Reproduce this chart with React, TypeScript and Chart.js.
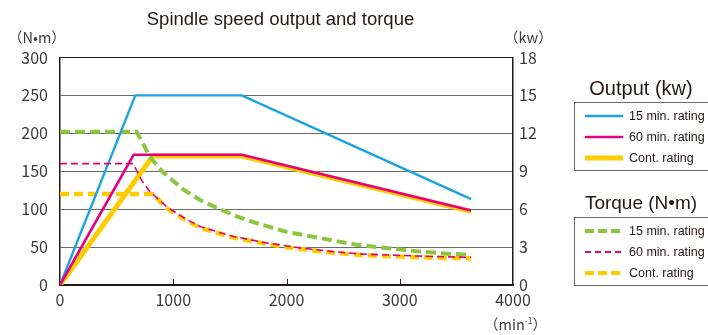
import React, { useEffect, useRef } from "react";
import { Chart, registerables } from "chart.js";

Chart.register(...registerables);

// ---- Data ----
const xTicks = [0, 1000, 2000, 3000, 4000];
const torqueTicks = [0, 50, 100, 150, 200, 250, 300];
const outputTicks = [0, 3, 6, 9, 12, 15, 18];

// Output (kw)
const outSpeed15 = [0, 665, 1605, 3630];
const out15 = [0, 15, 15, 6.8];
const outSpeed60 = [0, 650, 1605, 3630];
const out60 = [0, 10.3, 10.3, 5.9];
const outSpeedCont = [0, 820, 1605, 3630];
const outCont = [0, 10.2, 10.2, 5.82];

// Torque (N·m)
const tqSpeed15 = [0, 677, 794, 900, 1088, 1250, 1383, 1550, 1705, 2000, 2295, 2620, 2900, 3150, 3450, 3630];
const tq15 = [202, 202, 169, 150, 126, 111, 102, 91, 83, 70, 62, 53, 48.5, 44.5, 41, 40];
const tqSpeed60 = [0, 645, 721, 794, 944, 1100, 1236, 1530, 1824, 2118, 2410, 2648, 3000, 3300, 3630];
const tq60 = [160, 160, 138, 123, 103, 88, 77, 64, 55.5, 49, 44, 41, 39, 37.5, 36.5];
const tqSpeedCont = [0, 820, 944, 1100, 1236, 1530, 1824, 2118, 2410, 2648, 3000, 3300, 3630];
const tqCont = [120, 120, 101, 86.5, 75.5, 62.5, 54, 47.5, 42.5, 39.5, 37.5, 36, 35];

const BLUE = "#1aa3e2";
const MAGENTA = "#e4007f";
const YELLOW = "#ffcc00";
const GREEN = "#8cc63f";
const AXIS = "#231815";
const TEXT = "#3a3a3a";

const tickFont = { family: "'Noto Sans CJK JP', 'Noto Sans', sans-serif", size: 16 };

function pts(xs: number[], ys: number[]) {
  return xs.map((x, i) => ({ x, y: ys[i] }));
}

function LegendBox(props: {
  title: string;
  titleSize: number;
  titleTop: number;
  top: number;
  items: { label: string; color: string; width: number; dash?: string }[];
}) {
  const { title, titleSize, titleTop, top, items } = props;
  return (
    <>
      <div
        style={{
          position: "absolute",
          left: 574,
          width: 134,
          top: titleTop,
          textAlign: "center",
          fontFamily: "'Liberation Sans', Arial, sans-serif",
          fontSize: titleSize,
          color: "#231815",
          whiteSpace: "nowrap",
          lineHeight: "22px",
        }}
      >
        {title}
      </div>
      <div
        style={{
          position: "absolute",
          left: 574,
          top,
          width: 160,
          height: 69,
          border: "1px solid #6a6a6a",
          boxSizing: "border-box",
        }}
      >
        {items.map((it, i) => (
          <div
            key={i}
            style={{
              position: "absolute",
              left: 0,
              top: 3 + i * 21,
              height: 20,
              display: "flex",
              alignItems: "center",
              whiteSpace: "nowrap",
            }}
          >
            <svg width={48} height={20} style={{ display: "block" }}>
              <line
                x1={10}
                x2={48}
                y1={10}
                y2={10}
                stroke={it.color}
                strokeWidth={it.width}
                strokeDasharray={it.dash}
              />
            </svg>
            <span
              style={{
                marginLeft: 6,
                fontFamily: "'Liberation Sans', Arial, sans-serif",
                fontSize: 12.5,
                color: "#231815",
              }}
            >
              {it.label}
            </span>
          </div>
        ))}
      </div>
    </>
  );
}

export default function App() {
  const ref = useRef<HTMLCanvasElement>(null);

  useEffect(() => {
    if (!ref.current) return;
    const tickMarks = {
      id: "tickMarks",
      afterDatasetsDraw(chart: any) {
        const xs = chart.scales.x;
        const ctx = chart.ctx;
        const bottom = chart.chartArea.bottom;
        ctx.save();
        ctx.strokeStyle = AXIS;
        ctx.lineWidth = 1;
        xTicks.forEach((v) => {
          if (v <= xTicks[0] || v >= xTicks[xTicks.length - 1]) return;
          const px = Math.round(xs.getPixelForValue(v)) + 0.5;
          ctx.beginPath();
          ctx.moveTo(px, bottom);
          ctx.lineTo(px, bottom - 6);
          ctx.stroke();
        });
        ctx.restore();
      },
    };

    const plain = (v: any) => String(v);

    const chart = new Chart(ref.current, {
      type: "line",
      data: {
        datasets: [
          {
            label: "Torque 60 min. rating",
            data: pts(tqSpeed60, tq60),
            yAxisID: "y",
            borderColor: MAGENTA,
            borderWidth: 1.6,
            borderDash: [7, 4],
            order: 0,
          },
          {
            label: "Output 60 min. rating",
            data: pts(outSpeed60, out60),
            yAxisID: "y1",
            borderColor: MAGENTA,
            borderWidth: 2.6,
            order: 1,
          },
          {
            label: "Output 15 min. rating",
            data: pts(outSpeed15, out15),
            yAxisID: "y1",
            borderColor: BLUE,
            borderWidth: 2.4,
            order: 2,
          },
          {
            label: "Torque 15 min. rating",
            data: pts(tqSpeed15, tq15),
            yAxisID: "y",
            borderColor: GREEN,
            borderWidth: 4,
            borderDash: [10, 5],
            order: 3,
          },
          {
            label: "Output Cont. rating",
            data: pts(outSpeedCont, outCont),
            yAxisID: "y1",
            borderColor: YELLOW,
            borderWidth: 5,
            order: 4,
          },
          {
            label: "Torque Cont. rating",
            data: pts(tqSpeedCont, tqCont),
            yAxisID: "y",
            borderColor: YELLOW,
            borderWidth: 4.5,
            borderDash: [9, 5],
            order: 5,
          },
        ],
      },
      options: {
        responsive: false,
        animation: false,
        layout: { padding: { left: 8, right: 155, top: 57.5, bottom: 0 } },
        plugins: {
          legend: { display: false },
          tooltip: { enabled: false },
          title: { display: false },
        },
        elements: {
          point: { radius: 0 },
          line: { tension: 0, borderCapStyle: "butt", borderJoinStyle: "miter" },
        },
        scales: {
          x: {
            type: "linear",
            min: xTicks[0],
            max: xTicks[xTicks.length - 1],
            afterBuildTicks: (s: any) => {
              s.ticks = xTicks.map((v) => ({ value: v }));
            },
            ticks: { font: tickFont, color: TEXT, padding: 5, maxRotation: 0, callback: plain },
            grid: { drawOnChartArea: false, drawTicks: false },
            border: { color: AXIS, width: 1.5 },
            afterFit: (s: any) => {
              s.height = 50;
              s.paddingLeft = 0;
              s.paddingRight = 0;
            },
          },
          y: {
            type: "linear",
            position: "left",
            min: torqueTicks[0],
            max: torqueTicks[torqueTicks.length - 1],
            afterBuildTicks: (s: any) => {
              s.ticks = torqueTicks.map((v) => ({ value: v }));
            },
            ticks: { font: tickFont, color: TEXT, padding: 12, callback: plain },
            grid: {
              drawTicks: false,
              lineWidth: 1,
              color: (c: any) =>
                c.tick && (c.tick.value === 300 || c.tick.value === 0) ? AXIS : "#6a6a6a",
            },
            border: { color: AXIS, width: 1.5 },
            afterFit: (s: any) => {
              s.width = 52;
              s.paddingTop = 0;
              s.paddingBottom = 0;
            },
          },
          y1: {
            type: "linear",
            position: "right",
            min: outputTicks[0],
            max: outputTicks[outputTicks.length - 1],
            afterBuildTicks: (s: any) => {
              s.ticks = outputTicks.map((v) => ({ value: v }));
            },
            ticks: { font: tickFont, color: TEXT, padding: 6, callback: plain },
            grid: { drawOnChartArea: false, drawTicks: false },
            border: { color: AXIS, width: 1.5 },
            afterFit: (s: any) => {
              s.width = 40;
              s.paddingTop = 0;
              s.paddingBottom = 0;
            },
          },
        },
      },
      plugins: [tickMarks],
    });
    return () => chart.destroy();
  }, []);

  const unitStyle: React.CSSProperties = {
    position: "absolute",
    fontFamily: "'Noto Sans CJK JP', sans-serif",
    fontSize: 14.5,
    color: TEXT,
    whiteSpace: "nowrap",
    lineHeight: "16px",
  };

  return (
    <div
      style={{
        position: "absolute",
        left: 0,
        top: 0,
        width: 708,
        height: 335,
        overflow: "hidden",
        background: "#ffffff",
      }}
    >
      <canvas ref={ref} width={708} height={335} style={{ position: "absolute", left: 0, top: 0 }} />
      <div
        style={{
          position: "absolute",
          left: 54,
          width: 453,
          top: 8,
          textAlign: "center",
          fontFamily: "'Liberation Sans', Arial, sans-serif",
          fontSize: 18.5,
          color: "#231815",
          lineHeight: "22px",
          whiteSpace: "nowrap",
        }}
      >
        Spindle speed output and torque
      </div>
      <div style={{ ...unitStyle, left: 8, top: 29 }}>（N•m）</div>
      <div style={{ ...unitStyle, left: 504, top: 29 }}>（kw）</div>
      <div style={{ ...unitStyle, left: 484, top: 316 }}>
        （min<sup style={{ fontSize: 8.5, verticalAlign: "6px", lineHeight: 0 }}>-1</sup>）
      </div>
      <LegendBox
        title="Output (kw)"
        titleSize={20}
        titleTop={77}
        top={102}
        items={[
          { label: "15 min. rating", color: BLUE, width: 2.6 },
          { label: "60 min. rating", color: MAGENTA, width: 2.6 },
          { label: "Cont. rating", color: YELLOW, width: 5 },
        ]}
      />
      <LegendBox
        title="Torque (N•m)"
        titleSize={19}
        titleTop={192}
        top={217}
        items={[
          { label: "15 min. rating", color: GREEN, width: 4, dash: "9 4" },
          { label: "60 min. rating", color: MAGENTA, width: 1.8, dash: "6 4" },
          { label: "Cont. rating", color: YELLOW, width: 4, dash: "9 4" },
        ]}
      />
    </div>
  );
}
